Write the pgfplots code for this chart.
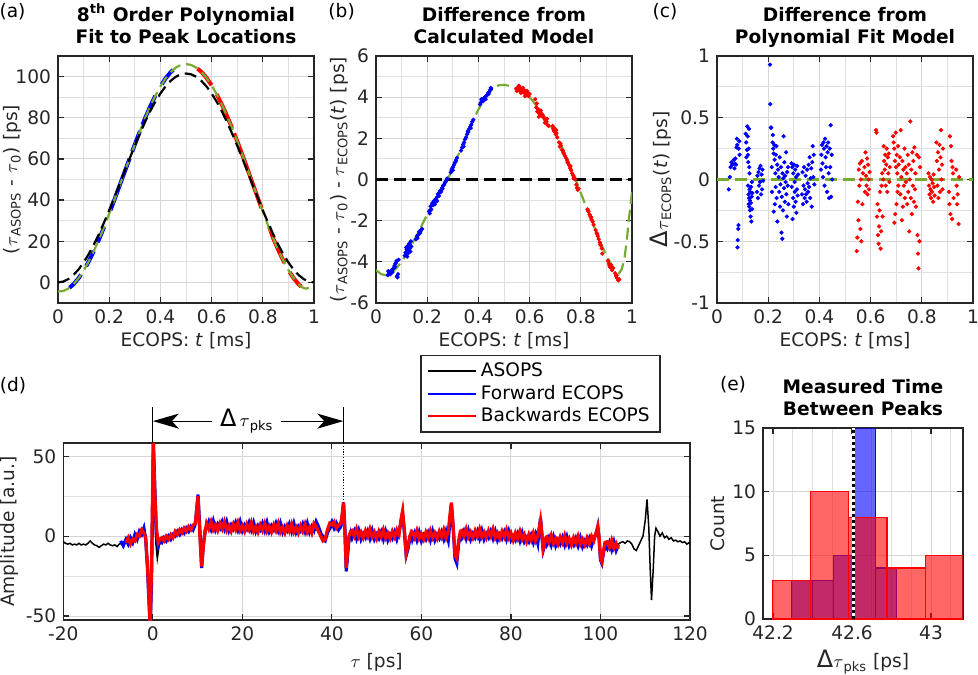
\documentclass[border=0pt]{standalone}
\usepackage{fontspec}
\setmainfont{DejaVu Sans}
\usepackage{pgfplots}
\usepackage{pgfplotstable}
\pgfplotsset{compat=1.18}
\usetikzlibrary{arrows.meta}
\definecolor{mgreen}{rgb}{0.466,0.674,0.188}
\definecolor{axgray}{rgb}{0.15,0.15,0.15}
\newcommand{\fs}{\fontsize{9.3}{11.2}\selectfont}

\pgfplotsset{
  mstyle/.style={
    scale only axis, anchor=south west,
    axis line style={draw=axgray, line width=0.65pt},
    tick align=inside, tick pos=both,
    tick style={draw=axgray, line width=0.6pt},
    major tick length=3pt, minor tick length=0pt,
    grid=both,
    major grid style={draw=black!16, line width=0.5pt},
    minor grid style={draw=black!12, line width=0.5pt},
    /pgf/number format/assume math mode=true,
    tick label style={font=\fs, text=axgray},
    label style={font=\fs, text=axgray},
    title style={font=\bfseries\fs, align=center, at={(0.5,1)}, anchor=south, yshift=-6.7pt},
  },
  scatb/.style={blue, only marks, mark=*, mark size=0.85pt},
  scatr/.style={red, only marks, mark=*, mark size=0.85pt},
}

\pgfplotstableread{
x blue red
-7.2 -3 nan
-6.6 -6 nan
-6.0 -2 -4
-5.5 -5 -1
-5.0 -1 -5
-4.5 -4 -2
-4.0 1 -3
-3.5 -2 1
-3.0 3 0
-2.5 1 4
-2.0 5 2
-1.6 -2 -1
-1.2 -20 -18
-0.8 -45 -42
-0.6 -56 -56
-0.3 -30 -20
0.0 30 40
0.1 60 60
0.4 35 30
0.8 0 5
1.2 -6 -4
1.6 -3 -2
2.0 -4 -1
2.5 -1 -3
3.0 -3 0
3.5 0 -2
4.0 -2 1
4.5 1 -1
5.0 0 3
5.5 3 1
6.0 1 4
6.5 4 2
7.0 2 5
7.5 5 3
8.0 3 6
8.5 6 4
9.0 4 7
9.5 8 8
10.1 26 25
10.5 5 0
10.9 -20 -19
11.3 -5 -6
11.7 4 3
12.0 5 8
12.5 9 4.5
13.0 4.5 9
13.5 9.5 4
14.0 4 7
14.5 7.5 3.5
15.0 5 8
15.5 9 4.5
16.0 4.5 9
16.5 9 3.5
17.0 3.5 6.5
17.5 7 3
18.0 4.5 7.5
18.5 8.5 4
19.0 4 8.5
19.5 9 3.5
20.0 3.5 6.5
20.5 7 3
21.0 4.5 7.5
21.5 8.5 4
22.0 4 8.5
22.5 8.5 3
23.0 3 6
23.5 6.5 2.5
24.0 4 7
24.5 8 3.5
25.0 3.5 8
25.5 8.5 3
26.0 3 6
26.5 6.5 2.5
27.0 4 7
27.5 8 3.5
28.0 3.5 8
28.5 8 2.5
29.0 2.5 5.5
29.5 6 2
30.0 3.5 6.5
30.5 7.5 3
31.0 3 7.5
31.5 8 2.5
32.0 2.5 5.5
32.5 6 2
33.0 3.5 6.5
33.5 7.5 3
34.0 3 7.5
34.5 8 2.5
35.0 2.5 5.5
35.5 6 2
36.0 3.5 8
36.5 9 6
37.0 6 3
37.5 2 0
38.0 -2 -3
38.5 -3 -2
39.0 2 4
39.5 6 8
40.0 9 7
40.5 5 9
41.0 8 5
41.5 4 7
42.0 6 8
42.3 12 14
42.6 21 21
42.9 5 3
43.2 -22 -20
43.5 -12 -10
43.8 -2 0
44.2 2 3
44.5 -1 3.5
45.0 3 0
45.5 -1.5 4.5
46.0 3.5 -0.5
46.5 -2 2.5
47.0 1.5 -1
47.5 -1 3.5
48.0 3 0
48.5 -1.5 4.5
49.0 3.5 -0.5
49.5 -2 2.5
50.0 1 -1.5
50.5 -1.5 3
51.0 2.5 -0.5
51.5 -2 4
52.0 3 -1
52.5 -2.5 2
53.0 1 -1.5
53.5 -1.5 3
54.0 2.5 -0.5
54.5 -2 4
55.0 3 1
55.4 8 10
55.8 14 16
56.2 2 4
56.6 -12 -11
57.0 -8 -6
57.4 -2 0
57.8 1 3
58.0 -2 2.5
58.5 2 -1
59.0 -2.5 3.5
59.5 2.5 -1.5
60.0 -3 1.5
60.5 0.5 -2
61.0 -2 2.5
61.5 2 -1
62.0 -2.5 3.5
62.5 3 -1
63.0 -2.5 2
63.5 1 -1.5
64.0 -1.5 3
64.5 2.5 -0.5
65.0 -2 4
65.5 3 -1
66.0 -2.5 3
66.4 10 14
66.7 20 21
67.1 5 6
67.5 -14 -12
67.9 -17 -14
68.3 -5 -3
68.7 1 3
69.0 -1 3.5
69.5 3 0
70.0 -1.5 4.5
70.5 3.5 -0.5
71.0 -2 2.5
71.5 1.5 -1
72.0 -1 3.5
72.5 3 0
73.0 -1.5 4.5
73.5 3.5 -0.5
74.0 -2 2.5
74.5 1.5 -1
75.0 -1 3.5
75.5 3 0
76.0 -1.5 4.5
76.5 3 -1
77.0 -2.5 2
77.5 1 -1.5
78.0 -1.5 3
78.5 2.5 -0.5
79.0 -2 4
79.5 3 -1
80.0 -2.5 2
80.5 0 -2.5
81.0 -2.5 2
81.5 1.5 -1.5
82.0 -3 3
82.5 2 -2
83.0 -3.5 1
83.5 -1 -3.5
84.0 -3.5 1
84.5 0.5 -2.5
85.0 -4 2
85.5 1 -3
86.0 -4.5 0
86.3 4 5
86.6 11 10
86.9 0 2
87.2 -9 -8
87.5 -6 -5
87.8 -3 -1
88.0 -5 -0.5
88.5 -1 -4
89.0 -5.5 0.5
89.5 -0.5 -4.5
90.0 -6 -1.5
90.5 -2.5 -5
91.0 -5 -0.5
91.5 -1 -4
92.0 -5.5 0.5
92.5 -0.5 -4.5
93.0 -6 -1.5
93.5 -3 -5.5
94.0 -5.5 -1
94.5 -1.5 -4.5
95.0 -6 0
95.5 -1 -5
96.0 -6.5 -2
96.5 -3 -5.5
97.0 -5.5 -1
97.5 -1.5 -4.5
98.0 -6 0
98.5 -1 -3
99.0 1 2
99.4 6 6
99.7 -2 -1
100.0 -15 -14
100.3 -17 -16
100.7 -10 -9
101.0 -6 -4
101.5 -8 -3.5
102.0 -4 -7
102.5 -8.5 -2.5
103.0 -3.5 -7.5
103.5 -9 -4.5
104.0 -5.5 -8
}\dtrace

\pgfplotstableread{
x y
-20 -3.5
-19.5 -4.5
-19 -5
-18.5 -4.5
-18 -5.5
-17.5 -5
-17 -5.5
-16.5 -4.5
-16 -5.5
-15.5 -5
-15 -5.5
-14.5 -4.5
-14 -3
-13.5 -4.5
-13 -5.5
-12.5 -6
-12 -7
-11.5 -6
-11 -5
-10.5 -5.5
-10 -4.5
-9.5 -5.5
-9 -6
-8.5 -5.5
-8 -6.5
-7.5 -5
-7 -4.5
-6 -3
-5 -2
-4 -1
-3 2
-2 3
-1.5 0
-1.1 -20
-0.7 -45
-0.4 -30
-0.1 20
0.1 45
0.4 20
0.7 -5
1.0 -14
1.4 -6
2 -2
3 -1
4 0
6 2
8 4
9.5 6
10.1 24
10.5 3
10.9 -18
11.3 -4
12 5
15 5
20 4.5
25 4
30 3.5
35 4
37 4
38.5 -1
40 6
42 8
42.5 20
42.9 5
43.3 -22
43.7 -8
44.2 1
46 1
50 1
55 1
55.4 8
55.8 14
56.2 2
56.7 -12
57.2 -5
58 0
62 1
66 1
66.4 10
66.7 18
67.1 4
67.6 -15
68 -14
68.5 -3
69 1
75 1.5
80 0.5
85 -1
86.3 5
86.8 10
87.1 0
87.3 -8
87.7 -3
88 -2.5
93 -3
98 -3
99.3 4
99.7 -2
100.1 -15
100.5 -12
101 -5
102 -5.5
103 -6
104 -5
104.5 -4
105 -3.5
105.5 -4.5
106 -3
106.5 -3.5
107 -5
107.5 -8
108 -9
108.5 -6
109 -3
109.5 0
110 10
110.4 23
110.8 5
111.1 -20
111.4 -40
111.8 -20
112.1 0
112.4 5
112.8 3
113.3 0
113.8 2
114.3 -1
114.8 0
115.3 -2
115.8 -1
116.3 -3
116.8 -2.5
117.3 -3.5
117.8 -3
118.3 -4
118.8 -3.5
119.3 -5
119.8 -4
120 -5
}\ktrace

\begin{document}
\begin{tikzpicture}
\path[use as bounding box] (0,0) rectangle (489pt,-337pt);

% ---------------- (a)
\begin{axis}[mstyle, at={(29pt,-151.5pt)}, width=128pt, height=123.5pt,
  xmin=0, xmax=1, ymin=-10, ymax=110,
  xtick={0,0.2,0.4,0.6,0.8,1}, minor xtick={0.1,0.3,0.5,0.7,0.9},
  ytick={0,20,40,60,80,100}, minor ytick={-10,10,30,50,70,90,110},
  unbounded coords=jump,
  title={8\textsuperscript{th} Order Polynomial\\Fit to Peak Locations\strut},
  xlabel={ECOPS: \textit{t} [ms]},
  ylabel={($\tau$\textsubscript{ASOPS} - $\tau$\textsubscript{0}) [ps]},
  x label style={at={(axis description cs:0.5,-0.154)}, anchor=center},
  y label style={at={(axis description cs:-0.18,0.5)}, anchor=center},
]
\addplot[blue, line width=2pt] coordinates {
(0.045,-2.54) (0.06,-0.99) (0.08,1.98) (0.09,3.84) (0.095,nan)
(0.11,7.9) (0.12,10.16) (0.14,15.25) (0.145,nan)
(0.155,19.46) (0.16,20.86) (0.18,26.94) (0.19,nan)
(0.205,35.04) (0.22,40.04) (0.24,46.81) (0.26,53.59) (0.28,60.26) (0.285,nan)
(0.29,63.62) (0.30,66.98) (0.32,73.51) (0.325,nan)
(0.33,76.6) (0.34,79.69) (0.36,85.45) (0.38,90.65) (0.39,nan)
(0.405,96.2) (0.42,99.07) (0.44,102.14) (0.45,103.25)};
\addplot[red, line width=2pt] coordinates {
(0.545,103.86) (0.56,102.29) (0.58,99.42) (0.60,95.81) (0.61,nan)
(0.62,91.45) (0.64,86.45) (0.66,80.94) (0.68,75.01) (0.684,nan)
(0.688,72.4) (0.70,68.68) (0.72,62.01) (0.74,55.14) (0.76,48.16) (0.78,41.24) (0.795,36.1) (0.81,nan)
(0.825,27.0) (0.84,21.66) (0.86,15.85) (0.88,10.61) (0.885,9.45) (0.895,nan)
(0.905,5.0) (0.92,2.13) (0.94,-0.94) (0.95,-2.07)};
\addplot[mgreen, line width=1.1pt, dash pattern=on 6pt off 3pt] coordinates {
(0,-4.40) (0.02,-4.20) (0.04,-3.06) (0.06,-0.99) (0.08,1.98) (0.10,5.69) (0.12,10.16) (0.14,15.25) (0.16,20.86) (0.18,26.94) (0.20,33.37) (0.22,40.04) (0.24,46.81) (0.26,53.59) (0.28,60.26) (0.30,66.98) (0.32,73.51) (0.34,79.69) (0.36,85.45) (0.38,90.65) (0.40,95.21) (0.42,99.07) (0.44,102.14) (0.46,104.36) (0.48,105.68) (0.50,106.10) (0.52,105.65) (0.54,104.39) (0.56,102.29) (0.58,99.42) (0.60,95.81) (0.62,91.45) (0.64,86.45) (0.66,80.94) (0.68,75.01) (0.70,68.68) (0.72,62.01) (0.74,55.14) (0.76,48.16) (0.78,41.24) (0.80,34.42) (0.82,27.84) (0.84,21.66) (0.86,15.85) (0.88,10.61) (0.90,5.99) (0.92,2.13) (0.94,-0.94) (0.95,-2.07) (0.96,-2.76) (0.97,-3.00) (0.98,-2.50) (0.99,-1.60) (1.00,-0.60)};
\addplot[black, line width=1.1pt, dash pattern=on 6pt off 3pt] coordinates {
(0,0) (0.02,0.40) (0.04,1.60) (0.06,3.56) (0.08,6.28) (0.10,9.69) (0.12,13.76) (0.14,18.40) (0.16,23.56) (0.18,29.14) (0.20,35.07) (0.22,41.24) (0.24,47.56) (0.26,53.94) (0.28,60.26) (0.30,66.43) (0.32,72.36) (0.34,77.94) (0.36,83.10) (0.38,87.75) (0.40,91.81) (0.42,95.22) (0.44,97.94) (0.46,99.91) (0.48,101.10) (0.50,101.50) (0.52,101.10) (0.54,99.91) (0.56,97.94) (0.58,95.22) (0.60,91.81) (0.62,87.75) (0.64,83.10) (0.66,77.94) (0.68,72.36) (0.70,66.43) (0.72,60.26) (0.74,53.94) (0.76,47.56) (0.78,41.24) (0.80,35.07) (0.82,29.14) (0.84,23.56) (0.86,18.40) (0.88,13.76) (0.90,9.69) (0.92,6.28) (0.94,3.56) (0.96,1.60) (0.98,0.40) (1.00,0)};
\end{axis}

% ---------------- (b)
\begin{axis}[mstyle, at={(188pt,-151.5pt)}, width=128pt, height=123.5pt,
  xmin=0, xmax=1, ymin=-6, ymax=6,
  xtick={0,0.2,0.4,0.6,0.8,1}, minor xtick={0.1,0.3,0.5,0.7,0.9},
  ytick={-6,-4,-2,0,2,4,6}, minor ytick={-5,-3,-1,1,3,5},
  title={Difference from\\Calculated Model\strut},
  xlabel={ECOPS: \textit{t} [ms]},
  ylabel={($\tau$\textsubscript{ASOPS} - $\tau$\textsubscript{0}) - $\tau$\textsubscript{ECOPS}(\textit{t}) [ps]},
  x label style={at={(axis description cs:0.5,-0.154)}, anchor=center},
  y label style={at={(axis description cs:-0.145,0.5)}, anchor=center},
]
\addplot[scatb] coordinates {
(0.046,-4.65) (0.05,-4.55) (0.054,-4.50) (0.058,-4.45) (0.062,-4.40) (0.066,-4.35) (0.07,-4.30) (0.072,-4.20) (0.075,-4.10) (0.078,-4.05) (0.08,-3.95) (0.082,-4.70) (0.084,-4.75) (0.086,-4.60) (0.088,-3.90)
(0.112,-3.70) (0.115,-3.55) (0.118,-3.30) (0.12,-3.40) (0.122,-3.75) (0.124,-3.60) (0.126,-3.20) (0.128,-3.45) (0.13,-3.10) (0.132,-3.35) (0.134,-3.50) (0.136,-3.00) (0.138,-3.25)
(0.156,-2.90) (0.16,-2.75) (0.164,-2.70) (0.168,-2.55) (0.172,-2.60) (0.176,-2.45) (0.18,-2.40)
(0.207,-1.55) (0.21,-1.65) (0.213,-1.30) (0.216,-1.45) (0.22,-1.15) (0.223,-1.25) (0.226,-1.05) (0.23,-1.20) (0.233,-0.95) (0.236,-1.00) (0.239,-0.85)
(0.242,-0.70) (0.246,-0.80) (0.25,-0.55) (0.254,-0.60) (0.258,-0.40) (0.262,-0.30) (0.266,-0.25) (0.27,-0.15) (0.274,-0.05) (0.278,0.05)
(0.292,0.35) (0.295,0.45) (0.298,0.55) (0.301,0.60) (0.304,0.70) (0.307,0.80) (0.31,0.85) (0.313,0.95) (0.316,1.05)
(0.332,1.40) (0.336,1.55) (0.34,1.70) (0.344,1.80) (0.348,1.95) (0.352,2.05) (0.356,2.20) (0.36,2.30) (0.364,2.45) (0.368,2.55) (0.372,2.65) (0.376,2.80) (0.38,2.90)
(0.406,3.65) (0.41,3.75) (0.414,3.85) (0.418,3.80) (0.422,3.95) (0.426,4.00) (0.43,4.05) (0.434,4.10) (0.438,4.20) (0.442,4.25) (0.446,4.35) (0.45,4.40)
(0.048,-4.45) (0.056,-4.60) (0.064,-4.50) (0.074,-4.25) (0.118,-3.55) (0.125,-3.35) (0.133,-3.15) (0.162,-2.85) (0.174,-2.50) (0.212,-1.50) (0.228,-1.10) (0.238,-1.05) (0.248,-0.65) (0.26,-0.45) (0.272,-0.10) (0.3,0.45) (0.312,0.90) (0.342,1.60) (0.358,2.35) (0.37,2.50) (0.412,3.90) (0.428,3.90) (0.44,4.15) (0.448,4.45)};
\addplot[scatr] coordinates {
(0.548,4.40) (0.552,4.45) (0.556,4.35) (0.56,4.50) (0.564,4.30) (0.568,4.40) (0.572,4.25) (0.576,4.35) (0.58,4.20) (0.584,4.30) (0.588,4.10) (0.592,4.20) (0.596,4.05) (0.6,4.15)
(0.622,3.90) (0.626,3.50) (0.63,3.30) (0.634,3.40) (0.638,3.20) (0.642,3.25) (0.646,3.10) (0.65,3.15)
(0.654,3.05) (0.658,2.95) (0.662,2.85) (0.666,2.80) (0.67,2.65) (0.674,2.60)
(0.69,2.60) (0.693,2.45) (0.696,2.50) (0.699,2.30) (0.702,2.20) (0.705,2.25) (0.708,2.05)
(0.715,1.80) (0.718,1.60) (0.722,1.65) (0.726,1.45) (0.73,1.40) (0.734,1.25) (0.738,1.15)
(0.742,1.05) (0.746,0.95) (0.75,0.80) (0.754,0.70) (0.758,0.55) (0.762,0.45) (0.766,0.30) (0.77,0.20) (0.774,0.10) (0.778,0.00)
(0.782,-0.25) (0.785,-0.40) (0.788,-0.50) (0.791,-0.45)
(0.826,-1.45) (0.83,-1.55) (0.834,-1.70) (0.838,-1.80) (0.842,-1.95) (0.846,-2.05) (0.85,-2.20)
(0.858,-2.45) (0.862,-2.60) (0.866,-2.75) (0.87,-2.90) (0.874,-3.05) (0.878,-3.20) (0.882,-3.35) (0.884,-3.60)
(0.906,-3.95) (0.91,-4.10) (0.914,-4.25) (0.918,-4.15) (0.922,-4.40) (0.926,-4.30)
(0.934,-4.55) (0.938,-4.70) (0.942,-4.80) (0.946,-4.90) (0.95,-4.85)
(0.55,4.30) (0.558,4.55) (0.566,4.20) (0.574,4.45) (0.582,4.05) (0.59,4.30) (0.628,3.70) (0.636,3.05) (0.644,3.35) (0.66,2.75) (0.668,2.95) (0.695,2.35) (0.704,2.40) (0.72,1.75) (0.732,1.30) (0.748,0.85) (0.76,0.65) (0.772,0.05) (0.828,-1.50) (0.84,-1.85) (0.864,-2.65) (0.876,-3.15) (0.912,-4.20) (0.92,-4.30) (0.94,-4.65)};
\addplot[mgreen, line width=1.1pt, dash pattern=on 6pt off 3pt] coordinates {
(0,-4.40) (0.02,-4.60) (0.04,-4.65) (0.06,-4.55) (0.08,-4.30) (0.10,-4.00) (0.12,-3.60) (0.14,-3.15) (0.16,-2.70) (0.18,-2.20) (0.20,-1.70) (0.22,-1.20) (0.24,-0.75) (0.26,-0.35) (0.28,0.00) (0.30,0.55) (0.32,1.15) (0.34,1.75) (0.36,2.35) (0.38,2.90) (0.40,3.40) (0.42,3.85) (0.44,4.20) (0.46,4.45) (0.48,4.58) (0.50,4.60) (0.52,4.55) (0.54,4.48) (0.56,4.35) (0.58,4.20) (0.60,4.00) (0.62,3.70) (0.64,3.35) (0.66,3.00) (0.68,2.65) (0.70,2.25) (0.72,1.75) (0.74,1.20) (0.76,0.60) (0.78,0.00) (0.80,-0.65) (0.82,-1.30) (0.84,-1.90) (0.86,-2.55) (0.88,-3.15) (0.90,-3.70) (0.92,-4.15) (0.94,-4.50) (0.95,-4.55) (0.96,-4.35) (0.97,-3.90) (0.98,-2.90) (0.99,-1.70) (1.00,-0.60)};
\addplot[black, line width=1.1pt, dash pattern=on 6pt off 3pt] coordinates {(0,0) (1,0)};
\end{axis}

% ---------------- (c)
\begin{axis}[mstyle, at={(358.5pt,-151.5pt)}, width=128pt, height=123.5pt,
  xmin=0, xmax=1, ymin=-1, ymax=1,
  xtick={0,0.2,0.4,0.6,0.8,1}, minor xtick={0.1,0.3,0.5,0.7,0.9},
  ytick={-1,-0.5,0,0.5,1}, minor ytick={-0.75,-0.25,0.25,0.75},
  title={Difference from\\Polynomial Fit Model\strut},
  xlabel={ECOPS: \textit{t} [ms]},
  ylabel={{\fontsize{12}{12}\selectfont Δ}$\tau$\textsubscript{ECOPS}(\textit{t}) [ps]},
  x label style={at={(axis description cs:0.5,-0.154)}, anchor=center},
  y label style={at={(axis description cs:-0.219,0.5)}, anchor=center},
]
\addplot[scatb] coordinates {
(0.046,-0.08) (0.05,0.02) (0.053,0.10) (0.056,0.14) (0.06,0.12)
(0.066,0.16) (0.068,0.09) (0.07,0.13) (0.072,0.17) (0.074,0.12) (0.076,0.26) (0.078,0.33) (0.079,0.28) (0.08,-0.55) (0.081,-0.49) (0.083,-0.40) (0.084,-0.37) (0.085,0.25) (0.087,0.31) (0.088,0.20)
(0.112,0.37) (0.114,0.30) (0.115,0.18) (0.117,0.24) (0.118,0.43) (0.12,0.35) (0.121,0.20) (0.122,0.14) (0.124,0.25) (0.125,0.41) (0.126,0.10) (0.127,0.05)
(0.121,-0.05) (0.123,-0.12) (0.124,-0.20) (0.125,-0.15) (0.126,-0.22) (0.127,-0.08) (0.128,-0.17) (0.129,-0.25) (0.13,-0.10) (0.131,-0.30) (0.132,-0.19) (0.133,-0.06) (0.134,-0.34) (0.135,-0.14) (0.136,-0.02) (0.137,-0.24) (0.138,-0.11)
(0.156,-0.10) (0.158,0.03) (0.16,-0.15) (0.162,0.06) (0.164,-0.05) (0.166,0.09) (0.168,-0.02) (0.17,0.11) (0.172,-0.12) (0.174,0.04) (0.176,-0.08) (0.178,0.08) (0.18,-0.01)
(0.207,0.93) (0.208,0.61) (0.21,0.42) (0.212,0.42) (0.214,0.10) (0.215,-0.10) (0.217,0.30) (0.218,0.36) (0.22,0.25) (0.221,0.21) (0.222,-0.26) (0.224,0.28) (0.225,0.16) (0.226,-0.20) (0.228,0.05) (0.229,-0.06) (0.23,0.20) (0.232,0.27) (0.233,-0.15) (0.235,0.12) (0.236,-0.34) (0.238,0.08)
(0.241,0.02) (0.243,-0.10) (0.245,0.18) (0.246,-0.22) (0.248,-0.04) (0.25,0.10) (0.252,-0.43) (0.253,-0.14) (0.255,-0.48) (0.256,0.05) (0.258,-0.25) (0.259,0.01) (0.26,0.35) (0.262,-0.07) (0.263,0.14) (0.265,-0.18) (0.266,0.03) (0.268,-0.02) (0.27,0.22) (0.271,-0.12) (0.273,-0.30) (0.274,0.06) (0.276,-0.05) (0.277,0.10) (0.279,-0.20)
(0.291,0.13) (0.292,-0.06) (0.294,0.10) (0.295,-0.32) (0.297,-0.15) (0.298,0.05) (0.3,-0.22) (0.301,0.12) (0.303,-0.02) (0.304,-0.10) (0.306,0.08) (0.307,-0.18) (0.309,0.02) (0.31,-0.27) (0.312,-0.08) (0.313,0.11) (0.315,-0.13) (0.317,0.04)
(0.332,-0.12) (0.334,0.06) (0.336,-0.20) (0.338,-0.05) (0.34,0.10) (0.342,-0.15) (0.344,-0.08) (0.346,0.03) (0.348,-0.12) (0.35,-0.18) (0.352,0.08) (0.354,-0.03) (0.356,-0.10) (0.358,0.12) (0.36,-0.06) (0.362,0.18) (0.364,-0.15) (0.366,0.01) (0.368,0.09) (0.37,-0.22) (0.372,0.14) (0.374,0.27) (0.376,0.02) (0.378,0.20) (0.38,-0.04)
(0.406,0.08) (0.408,0.20) (0.41,0.28) (0.412,0.13) (0.414,0.02) (0.416,0.30) (0.418,0.25) (0.42,-0.05) (0.422,0.33) (0.424,0.18) (0.426,0.10) (0.428,0.27) (0.43,-0.10) (0.432,0.22) (0.434,0.30) (0.436,0.05) (0.438,-0.15) (0.44,0.25) (0.442,0.10) (0.444,0.44) (0.446,-0.14) (0.448,0.20) (0.45,0.00)};
\addplot[scatr] coordinates {
(0.546,-0.58) (0.548,-0.47) (0.55,-0.18) (0.552,-0.33) (0.554,0.08) (0.556,-0.05) (0.558,0.13) (0.56,-0.40) (0.562,0.00) (0.564,-0.50) (0.566,0.15) (0.568,-0.20) (0.57,0.05)
(0.576,0.10) (0.578,-0.10) (0.58,0.22) (0.582,0.03) (0.584,-0.05) (0.586,0.17) (0.588,-0.12) (0.59,0.12) (0.592,0.00) (0.594,-0.08) (0.596,0.06)
(0.621,0.40) (0.623,0.38) (0.625,-0.30) (0.627,-0.20) (0.629,-0.45) (0.631,-0.52) (0.633,-0.38) (0.635,-0.25) (0.637,-0.10) (0.639,-0.56) (0.641,-0.42) (0.643,-0.05) (0.645,0.05) (0.647,-0.30) (0.649,0.00)
(0.651,0.27) (0.653,0.15) (0.655,0.08) (0.657,0.20) (0.659,-0.05) (0.661,0.12) (0.663,0.25) (0.665,-0.10) (0.667,0.18) (0.669,0.05) (0.671,0.21) (0.673,-0.02) (0.675,0.10)
(0.688,0.35) (0.69,0.30) (0.692,0.25) (0.693,-0.35) (0.695,0.15) (0.696,-0.28) (0.698,0.38) (0.699,0.10) (0.701,-0.20) (0.702,0.20) (0.704,0.05) (0.705,-0.10) (0.707,0.27) (0.708,-0.05) (0.71,0.12)
(0.714,0.18) (0.716,-0.12) (0.718,0.40) (0.72,0.02) (0.722,-0.33) (0.724,0.15) (0.726,-0.22) (0.728,0.08) (0.73,-0.05) (0.732,0.25) (0.734,-0.15) (0.736,0.10) (0.738,-0.02)
(0.741,0.05) (0.743,-0.20) (0.745,0.20) (0.747,-0.10) (0.749,0.12) (0.751,-0.42) (0.753,0.00) (0.755,0.47) (0.757,-0.15) (0.759,0.08) (0.761,-0.28) (0.763,0.22) (0.765,-0.05) (0.767,0.15) (0.769,-0.18) (0.771,0.26) (0.773,-0.08) (0.775,0.05) (0.777,-0.22)
(0.781,0.20) (0.783,-0.45) (0.785,-0.60) (0.787,-0.72) (0.789,0.18) (0.791,-0.50) (0.793,0.10)
(0.826,0.05) (0.828,-0.05) (0.83,-0.12) (0.832,0.02) (0.834,-0.08) (0.836,-0.15) (0.838,0.00) (0.84,-0.10) (0.842,-0.03) (0.844,-0.18) (0.846,0.04) (0.848,-0.06) (0.85,-0.13)
(0.857,0.30) (0.859,0.15) (0.861,-0.05) (0.863,0.22) (0.865,-0.15) (0.867,0.08) (0.869,0.28) (0.871,-0.10) (0.873,0.18) (0.875,0.40) (0.877,0.00) (0.879,0.12) (0.881,-0.08) (0.883,0.25)
(0.906,-0.10) (0.908,-0.20) (0.91,0.35) (0.912,-0.28) (0.914,0.27) (0.916,0.15) (0.918,-0.32) (0.92,0.10) (0.922,0.05) (0.924,-0.15)
(0.934,0.08) (0.936,-0.05) (0.938,-0.20) (0.94,-0.12) (0.944,-0.36) (0.946,0.02)};
\addplot[mgreen, line width=1.1pt, dash pattern=on 6pt off 3pt] coordinates {(0,0) (1,0)};
\end{axis}

% ---------------- (d)
\begin{axis}[mstyle, at={(31.65pt,-310pt)}, width=313.35pt, height=88.5pt,
  xmin=-20, xmax=120, ymin=-52.5, ymax=58.3,
  xtick={-20,0,20,40,60,80,100,120},
  ytick={-50,0,50}, minor ytick={-25,25},
  xlabel={$\tau$ [ps]},
  ylabel={Amplitude [a.u.]},
  x label style={at={(axis description cs:0.5,-0.237)}, anchor=center},
  y label style={at={(axis description cs:-0.086,0.5)}, anchor=center},
  legend style={at={(0.953,1.058)}, anchor=south east, draw=axgray, line width=0.8pt,
    font=\fs, inner xsep=3pt, inner ysep=1.5pt, row sep=-1.2pt, fill=white},
  legend cell align=left,
  legend image code/.code={\draw[#1, line width=0.9pt] (0pt,0pt) -- (24pt,0pt);},
]
\addplot[black, line width=0.75pt] table[x=x, y=y] {\ktrace};
\addlegendentry{ASOPS}
\addplot[blue, line width=1.6pt] table[x=x, y=blue] {\dtrace};
\addlegendentry{Forward ECOPS}
\addplot[red, line width=1.6pt] table[x=x, y=red] {\dtrace};
\addlegendentry{Backwards ECOPS}
\coordinate (A0) at (axis cs:0,58.3);
\coordinate (A1) at (axis cs:0,80.8);
\coordinate (B0) at (axis cs:42.55,58.3);
\coordinate (B1) at (axis cs:42.55,80.8);
\coordinate (B2) at (axis cs:42.55,21);
\coordinate (AM) at (axis cs:0,72);
\coordinate (BM) at (axis cs:42.55,72);
\coordinate (LM) at (axis cs:21,72);
\end{axis}
\draw[black, line width=0.6pt] (A0) -- (A1);
\draw[black, line width=0.6pt] (B0) -- (B1);
\draw[black, line width=0.6pt, dash pattern=on 0.6pt off 0.8pt] (B0) -- (B2);
\draw[{Stealth[length=13pt,width=7.5pt,inset=3.5pt]}-{Stealth[length=13pt,width=7.5pt,inset=3.5pt]}, line width=0.6pt] (AM) -- (BM);
\node[fill=white, inner xsep=4pt, inner ysep=0pt, font=\fs] at (LM) {{\fontsize{12}{12}\selectfont Δ}\,$\tau$\textsubscript{pks}};

% ---------------- (e)
\begin{axis}[mstyle, at={(381.5pt,-309.5pt)}, width=100pt, height=95.5pt,
  xmin=42.149, xmax=43.162, ymin=0, ymax=15,
  xtick={42.2,42.6,43}, minor xtick={42.3,42.4,42.5,42.7,42.8,42.9,43.1},
  ytick={0,5,10,15},
  title={Measured Time\\Between Peaks\strut},
  xlabel={{\fontsize{12}{12}\selectfont Δ}$\tau$\textsubscript{pks} [ps]},
  ylabel={Count},
  x label style={at={(axis description cs:0.5,-0.224)}, anchor=center},
  y label style={at={(axis description cs:-0.225,0.5)}, anchor=center},
]
\addplot[fill=blue, fill opacity=0.6, draw=blue, line width=0.6pt] coordinates {(42.295,3) (42.401,3)} \closedcycle;
\addplot[fill=blue, fill opacity=0.6, draw=blue, line width=0.6pt] coordinates {(42.401,3) (42.507,3)} \closedcycle;
\addplot[fill=blue, fill opacity=0.6, draw=blue, line width=0.6pt] coordinates {(42.507,5) (42.613,5)} \closedcycle;
\addplot[fill=blue, fill opacity=0.6, draw=blue, line width=0.6pt] coordinates {(42.613,17) (42.719,17)} \closedcycle;
\addplot[fill=blue, fill opacity=0.6, draw=blue, line width=0.6pt] coordinates {(42.719,4) (42.825,4)} \closedcycle;
\addplot[fill=red, fill opacity=0.6, draw=red, line width=0.6pt] coordinates {(42.198,3) (42.391,3)} \closedcycle;
\addplot[fill=red, fill opacity=0.6, draw=red, line width=0.6pt] coordinates {(42.391,10) (42.584,10)} \closedcycle;
\addplot[fill=red, fill opacity=0.6, draw=red, line width=0.6pt] coordinates {(42.584,8) (42.777,8)} \closedcycle;
\addplot[fill=red, fill opacity=0.6, draw=red, line width=0.6pt] coordinates {(42.777,4) (42.970,4)} \closedcycle;
\addplot[fill=red, fill opacity=0.6, draw=red, line width=0.6pt] coordinates {(42.970,5) (43.163,5)} \closedcycle;
\addplot[white, line width=1.5pt] coordinates {(42.607,0) (42.607,15)};
\addplot[black, line width=1.5pt, dash pattern=on 1.5pt off 1.5pt] coordinates {(42.607,0) (42.607,15)};
\end{axis}

% panel letters
\node[font=\fs] at (6.25pt,-6pt) {(a)};
\node[font=\fs] at (170.8pt,-6pt) {(b)};
\node[font=\fs] at (332.5pt,-6pt) {(c)};
\node[font=\fs] at (6.5pt,-193pt) {(d)};
\node[font=\fs] at (366.5pt,-192.5pt) {(e)};
\end{tikzpicture}
\end{document}
